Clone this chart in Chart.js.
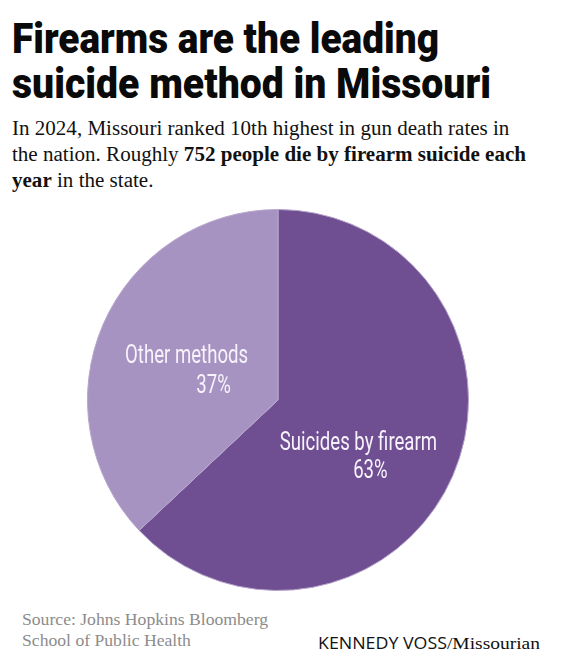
<!DOCTYPE html>
<html>
<head>
<meta charset="utf-8">
<script src="https://cdn.jsdelivr.net/npm/chart.js@4.4.1/dist/chart.umd.min.js"></script>
<style>
  html, body { margin: 0; padding: 0; background: #fff; }
  #wrap { position: relative; width: 564px; height: 652px; overflow: hidden; }
  .title { position: absolute; left: 12px; top: 16px; font-family: Roboto, "Liberation Sans", sans-serif; font-weight: 900; font-size: 43px; line-height: 45px; color: #0a0a0a; white-space: nowrap; }
  .title span, .sub span, .src span, .credit span.w { display: inline-block; transform-origin: 0 0; }
  .sub { position: absolute; left: 12px; top: 115px; font-family: "Liberation Serif", serif; font-size: 20px; line-height: 26px; color: #111; white-space: nowrap; }
  .src { position: absolute; left: 22px; top: 609px; font-family: "Liberation Serif", serif; font-size: 17px; line-height: 21px; color: #8c8c8c; white-space: nowrap; }
  .credit { position: absolute; left: 318px; top: 632px; color: #111; white-space: nowrap; }
  .credit .a { font-family: "Open Sans", "Liberation Sans", sans-serif; font-weight: 400; font-size: 16px; }
  .credit .b { font-family: "Liberation Serif", serif; font-size: 17.5px; }
  #pie { position: absolute; left: 87px; top: 209px; }
</style>
</head>
<body>
<div id="wrap">
  <div class="title"><span id="t1">Firearms are the leading</span><br><span id="t2">suicide method in Missouri</span></div>
  <div class="sub"><span id="s1">In 2024, Missouri ranked 10th highest in gun death rates in<br>the nation. Roughly <b>752 people die by firearm suicide each</b><br><b>year</b> in the state.</span></div>
  <canvas id="pie" width="382" height="382"></canvas>
  <div class="src"><span id="c1">Source: Johns Hopkins Bloomberg<br>School of Public Health</span></div>
  <div class="credit"><span class="w" id="cr"><span class="a">KENNEDY VOSS</span><span class="b">/Missourian</span></span></div>
</div>
<script>
const categories = ["Suicides by firearm", "Other methods"];
const values = [63, 37];
const colors = ["#6f4f92", "#a793c1"];

function fitWidth(id, target) {
  const el = document.getElementById(id);
  el.style.transform = "none";
  const w = el.getBoundingClientRect().width;
  if (w > 0) el.style.transform = "scaleX(" + (target / w) + ")";
}
function fitAll() {
  fitWidth("t1", 427);
  fitWidth("t2", 479);
  fitWidth("s1", 514);
  fitWidth("c1", 246);
  fitWidth("cr", 222);
}
fitAll();

const labelPlugin = {
  id: "sliceLabels",
  afterDatasetsDraw(chart) {
    const ctx = chart.ctx;
    const meta = chart.getDatasetMeta(0);
    // [line1 dx, line1 dy, pct dx, pct dy] relative to arc centre
    const offsets = [[-7, 12, 5, 40], [-4, 1, 23, 31]];
    ctx.save();
    ctx.fillStyle = "#f7f2fb";
    ctx.textAlign = "center";
    ctx.textBaseline = "alphabetic";
    ctx.font = '25px Roboto, "Liberation Sans", sans-serif';
    const squeeze = 123 / ctx.measureText(categories[1]).width;
    const draw = (txt, x, y) => {
      ctx.save();
      ctx.translate(x, y);
      ctx.scale(squeeze, 1);
      ctx.fillText(txt, 0, 0);
      ctx.restore();
    };
    meta.data.forEach((arc, i) => {
      const c = arc.getCenterPoint();
      const o = offsets[i];
      draw(categories[i], c.x + o[0], c.y + o[1]);
      draw(values[i] + "%", c.x + o[2], c.y + o[3]);
    });
    ctx.restore();
  }
};

const chart = new Chart(document.getElementById("pie"), {
  type: "pie",
  data: {
    labels: categories,
    datasets: [{ data: values, backgroundColor: colors, borderWidth: 1, borderColor: "#b7a7cd" }]
  },
  options: {
    responsive: false,
    animation: false,
    layout: { padding: 0 },
    plugins: { legend: { display: false }, tooltip: { enabled: false } }
  },
  plugins: [labelPlugin]
});
if (document.fonts && document.fonts.ready) {
  document.fonts.ready.then(() => { fitAll(); chart.update(); });
}
</script>
</body>
</html>
